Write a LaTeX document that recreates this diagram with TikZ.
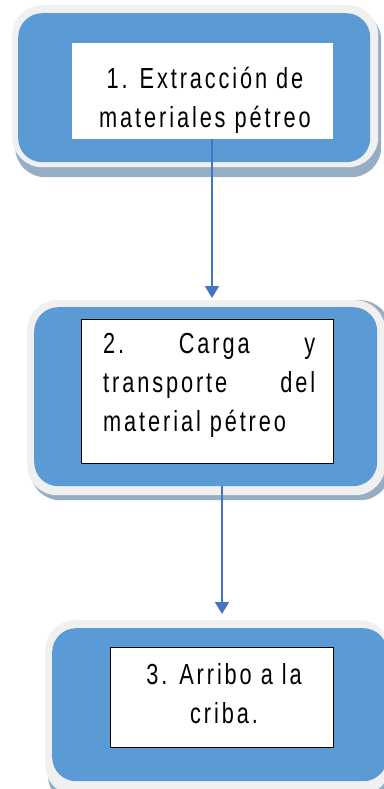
\documentclass[tikz,border=0pt]{standalone}
\usepackage{fontspec}
\setmainfont{Liberation Sans}[FakeStretch=0.75,LetterSpace=10]
\usetikzlibrary{arrows.meta}
\definecolor{boxblue}{HTML}{5B9BD5}
\definecolor{arrowblue}{HTML}{4472C4}
\definecolor{rimgray}{HTML}{F0F0F0}
\definecolor{shadowgray}{HTML}{97ADC4}
\tikzset{
  shadowbox/.style={fill=shadowgray, draw=none, rounded corners=30pt, inner sep=0pt, anchor=north west},
  rimbox/.style={fill=rimgray, draw=none, rounded corners=30pt, inner sep=0pt, anchor=north west},
  bluebox/.style={fill=boxblue, draw=none, rounded corners=24pt, inner sep=0pt, anchor=north west},
  whitebox/.style={fill=white, inner sep=0pt, anchor=north west},
  framedbox/.style={whitebox, draw=black, line width=1pt},
  label/.style={font=\fontsize{29}{39}\selectfont, inner sep=0pt},
  flow/.style={draw=arrowblue, line width=1.6pt, -{Triangle[length=12pt,width=14pt]}}
}
\begin{document}
\begin{tikzpicture}[x=1pt,y=-1pt]
\useasboundingbox (0,0) rectangle (383,789);
% Box 1
\node[shadowbox, minimum width=366, minimum height=167] (sh1) at (15,10) {};
\node[rimbox, minimum width=366, minimum height=162] (rim1) at (12,5) {};
\node[bluebox, minimum width=352, minimum height=149] (blue1) at (18,13) {};
\node[whitebox, minimum width=261, minimum height=96] (w1) at (72,43) {};
\node[label, align=center] (t1) at (205,100) {1. Extracción de\\materiales pétreo};
% Box 2
\node[shadowbox, minimum width=360, minimum height=200] (sh2) at (30,300) {};
\node[rimbox, minimum width=358, minimum height=195] (rim2) at (27,300) {};
\node[bluebox, minimum width=343, minimum height=179] (blue2) at (34,307) {};
\node[framedbox, minimum width=252, minimum height=144] (w2) at (81,319) {};
\node[label, align=left, anchor=north west] (t2) at (103,333)
  {\makebox[212pt][l]{2.\hfill Carga\hfill y}\\
   \makebox[212pt][l]{transporte\hfill del}\\
   material pétreo};
% Box 3
\node[shadowbox, minimum width=345, minimum height=180] (sh3) at (48,626) {};
\node[rimbox, minimum width=345, minimum height=175] (rim3) at (45,620) {};
\node[bluebox, minimum width=335, minimum height=153] (blue3) at (52,628) {};
\node[framedbox, minimum width=223, minimum height=100] (w3) at (110,647) {};
\node[label, align=center] (t3) at (224,694) {3. Arribo a la\\criba.};
% Connectors
\coordinate (c1) at (212,0);
\coordinate (c2) at (222,0);
\draw[flow, shorten >=2pt] (w1.south -| c1) -- (rim2.north -| c1);
\draw[flow, shorten >=6pt] (blue2.south -| c2) -- (rim3.north -| c2);
\end{tikzpicture}
\end{document}
